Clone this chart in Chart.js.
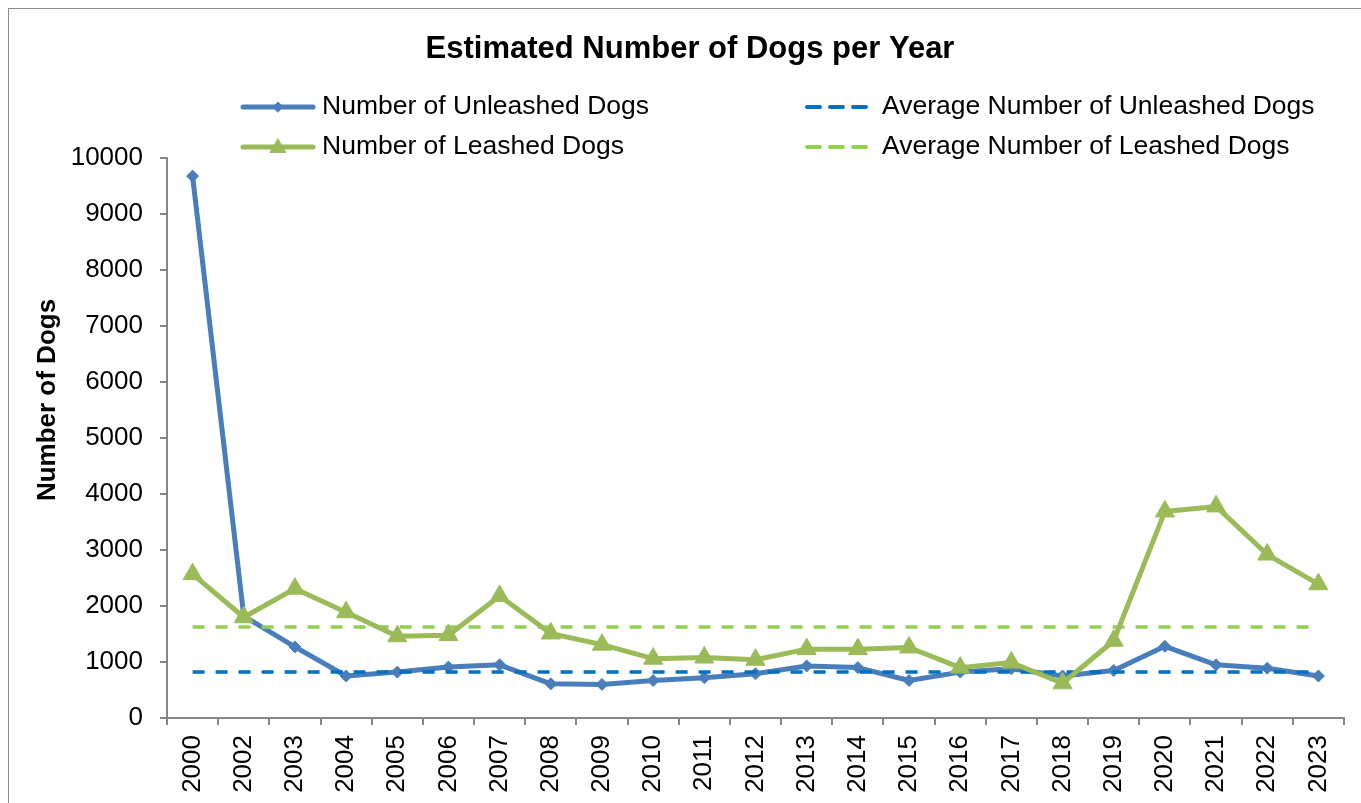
<!DOCTYPE html>
<html lang="en">
<head>
<meta charset="UTF-8">
<title>Estimated Number of Dogs per Year</title>
<script src="https://cdn.jsdelivr.net/npm/chart.js@4.4.1/dist/chart.umd.min.js"></script>
<style>
    body { margin: 0; background: #fff; }
    #wrap { width: 1361px; height: 803px; }
</style>
</head>
<body>
<div id="wrap"><canvas id="dogChart" width="1361" height="803"></canvas></div>
<script>
    // values
    const years = ['2000', '2002', '2003', '2004', '2005', '2006', '2007', '2008', '2009', '2010', '2011', '2012',
        '2013', '2014', '2015', '2016', '2017', '2018', '2019', '2020', '2021', '2022', '2023'];
    const unleashed = [9680, 1820, 1270, 750, 820, 910, 950, 610, 600, 670, 720, 790,
        930, 900, 670, 820, 880, 750, 850, 1280, 950, 890, 750];
    const leashed = [2570, 1800, 2310, 1890, 1460, 1480, 2180, 1510, 1310, 1060, 1080, 1040,
        1230, 1230, 1260, 900, 990, 620, 1380, 3690, 3780, 2920, 2390];
    const avgUnleashed = 820;
    const avgLeashed = 1625;
    const yMin = 0;
    const yMax = 10000;
    const yStep = 1000;

    const FONT = '"Liberation Sans", Arial, sans-serif';
    const AXIS_GREY = '#868686';

    // frame, legend and the y axis title
    const extras = {
        id: 'extras',
        beforeDraw(chart) {
            const ctx = chart.ctx;
            ctx.save();
            ctx.fillStyle = '#fff';
            ctx.fillRect(0, 0, chart.width, chart.height);
            ctx.strokeStyle = '#8c8c8c';
            ctx.lineWidth = 1;
            ctx.strokeRect(8.5, 8.5, chart.width + 20, chart.height + 20);
            ctx.restore();
        },
        afterDraw(chart) {
            const ctx = chart.ctx;
            const ds = chart.data.datasets;
            const items = [
                { d: ds[0], x: 243, y: 107 },
                { d: ds[1], x: 243, y: 147 },
                { d: ds[2], x: 807, y: 107 },
                { d: ds[3], x: 807, y: 147 }
            ];
            ctx.save();
            items.forEach(function (it) {
                const d = it.d;
                ctx.strokeStyle = d.borderColor;
                ctx.fillStyle = d.borderColor;
                if (d.borderDash) {
                    ctx.lineWidth = 4;
                    ctx.setLineDash([13, 10]);
                    ctx.beginPath();
                    ctx.moveTo(it.x, it.y);
                    ctx.lineTo(it.x + 60, it.y);
                    ctx.stroke();
                    ctx.setLineDash([]);
                } else {
                    ctx.lineWidth = 5;
                    ctx.lineCap = 'round';
                    ctx.beginPath();
                    ctx.moveTo(it.x, it.y);
                    ctx.lineTo(it.x + 70, it.y);
                    ctx.stroke();
                    ctx.lineWidth = 1;
                    Chart.helpers.drawPoint(ctx, {
                        pointStyle: d.pointStyle,
                        radius: d.pointStyle === 'triangle' ? 9 : 5,
                        rotation: 0,
                        borderWidth: 1
                    }, it.x + 35, it.y + (d.pointStyle === 'triangle' ? 1 : 0));
                }
                ctx.fillStyle = '#000';
                ctx.font = '26.5px ' + FONT;
                ctx.textBaseline = 'middle';
                ctx.textAlign = 'left';
                ctx.fillText(d.label, d.borderDash ? it.x + 75 : it.x + 79, it.y);
            });

            ctx.translate(48, 400);
            ctx.rotate(-Math.PI / 2);
            ctx.font = 'bold 26px ' + FONT;
            ctx.textAlign = 'center';
            ctx.textBaseline = 'middle';
            ctx.fillStyle = '#000';
            ctx.fillText('Number of Dogs', 0, 0);
            ctx.restore();
        }
    };

    const ctx = document.getElementById('dogChart').getContext('2d');
    const dogChart = new Chart(ctx, {
        type: 'line',
        data: {
            labels: years,
            datasets: [{
                label: 'Number of Unleashed Dogs',
                data: unleashed,
                borderColor: '#4A7EBB',
                backgroundColor: '#4A7EBB',
                borderWidth: 5,
                borderJoinStyle: 'round',
                pointStyle: 'rectRot',
                pointRadius: 6,
                pointBorderWidth: 1,
                pointBackgroundColor: '#4A7EBB',
                tension: 0,
                order: 3
            }, {
                label: 'Number of Leashed Dogs',
                data: leashed,
                borderColor: '#9BBB59',
                backgroundColor: '#9BBB59',
                borderWidth: 5,
                borderJoinStyle: 'round',
                pointStyle: 'triangle',
                pointRadius: 11,
                pointBorderWidth: 1,
                pointBackgroundColor: '#9BBB59',
                tension: 0,
                order: 1
            }, {
                label: 'Average Number of Unleashed Dogs',
                data: years.map(function () { return avgUnleashed; }),
                borderColor: '#0070C0',
                borderWidth: 3.5,
                borderDash: [12, 11],
                pointRadius: 0,
                order: 2
            }, {
                label: 'Average Number of Leashed Dogs',
                data: years.map(function () { return avgLeashed; }),
                borderColor: '#92D050',
                borderWidth: 3.5,
                borderDash: [12, 11],
                pointRadius: 0,
                order: 2
            }]
        },
        options: {
            responsive: false,
            animation: false,
            layout: { padding: { top: 9, left: 36, right: 17, bottom: 0 } },
            plugins: {
                legend: { display: false },
                tooltip: { enabled: false },
                title: {
                    display: true,
                    text: 'Estimated Number of Dogs per Year',
                    color: '#000',
                    font: { family: FONT, size: 31, weight: 'bold' },
                    padding: { top: 22, bottom: 90 }
                }
            },
            scales: {
                x: {
                    offset: true,
                    grid: { offset: true, drawOnChartArea: false, tickLength: 7, color: AXIS_GREY, lineWidth: 2 },
                    border: { color: AXIS_GREY, width: 2 },
                    ticks: {
                        color: '#000',
                        font: { family: FONT, size: 26 },
                        minRotation: 90,
                        maxRotation: 90,
                        autoSkip: false,
                        padding: 10
                    },
                    afterFit: function (scale) { scale.height = 85; }
                },
                y: {
                    min: yMin,
                    max: yMax,
                    grid: { drawOnChartArea: false, tickLength: 7, color: AXIS_GREY, lineWidth: 2 },
                    border: { color: AXIS_GREY, width: 2 },
                    ticks: {
                        stepSize: yStep,
                        color: '#000',
                        font: { family: FONT, size: 26 },
                        padding: 17,
                        callback: function (v) { return String(v); }
                    },
                    afterFit: function (scale) { scale.width = 131; }
                }
            }
        },
        plugins: [extras]
    });
</script>
</body>
</html>
